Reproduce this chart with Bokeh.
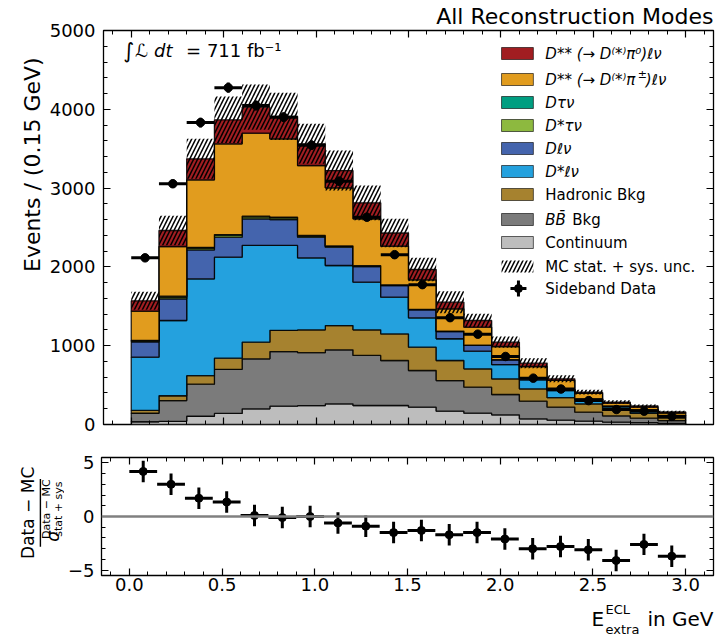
import numpy as np
from bokeh.plotting import figure
from bokeh.models import (Range1d, LinearAxis, SingleIntervalTicker, Label, BoxAnnotation,
                          Span, CustomJSTickFormatter, NumeralTickFormatter)
from bokeh.layouts import column, row
from bokeh.embed import file_html
from bokeh.resources import INLINE

# ---------------- data ----------------
bin_edges = [0.0, 0.15, 0.3, 0.45, 0.6, 0.75, 0.9, 1.05, 1.2, 1.35, 1.5,
             1.65, 1.8, 1.95, 2.1, 2.25, 2.4, 2.55, 2.7, 2.85, 3.0]
continuum    = [35, 40, 105, 140, 199, 232, 240, 262, 241, 241, 220, 169, 144, 123, 72, 55, 42, 30, 25, 15]
bb_bkg       = [108, 264, 407, 560, 635, 693, 672, 686, 635, 571, 465, 389, 330, 258, 224, 165, 114, 80, 55, 35]
hadronic_bkg = [35, 61, 108, 142, 211, 270, 289, 308, 325, 338, 296, 254, 233, 199, 157, 120, 106, 68, 60, 35]
dstar_lnu    = [676, 955, 1229, 1281, 1227, 1077, 914, 762, 605, 466, 373, 276, 223, 181, 114, 90, 53, 47, 40, 20]
d_lnu        = [196, 275, 366, 254, 338, 329, 262, 232, 199, 148, 102, 92, 73, 60, 18, 10, 10, 10, 7, 9]
dstar_taunu  = [12, 23, 25, 25, 26, 23, 18, 12, 8, 6, 4, 3, 2, 2, 2, 1, 1, 1, 1, 0]
d_taunu      = [6, 10, 8, 8, 8, 6, 5, 4, 3, 3, 2, 2, 1, 1, 1, 1, 1, 0, 0, 1]
dss_pipm     = [372, 631, 857, 1152, 1053, 995, 887, 737, 594, 490, 374, 283, 229, 166, 148, 118, 68, 34, 32, 30]
dss_pi0      = [130, 203, 267, 305, 330, 284, 275, 220, 203, 167, 131, 84, 85, 55, 42, 20, 15, 15, 15, 15]
mc_unc       = [115, 186, 254, 295, 288, 300, 254, 254, 220, 180, 148, 140, 85, 72, 64, 45, 30, 22, 20, 15]
sideband_data = [2115, 3055, 3832, 4275, 4048, 3900, 3545, 3088, 2631, 2155, 1775, 1356, 1146, 863, 588, 450, 303, 190, 169, 103]
pull         = [4.2, 3.0, 1.7, 1.35, 0.1, -0.1, 0.0, -0.6, -0.9, -1.5, -1.3, -1.7, -1.5, -2.1, -3.0, -2.8, -3.1, -4.1, -2.6, -3.7]

components = [
    ("Continuum", continuum, "#bdbdbd"),
    ("BB Bkg", bb_bkg, "#7b7b7b"),
    ("Hadronic Bkg", hadronic_bkg, "#a6822f"),
    ("D*lnu", dstar_lnu, "#24a1de"),
    ("Dlnu", d_lnu, "#4464ad"),
    ("D*taunu", dstar_taunu, "#8db93f"),
    ("Dtaunu", d_taunu, "#009e81"),
    ("Dss pipm", dss_pipm, "#e19c1e"),
    ("Dss pi0", dss_pi0, "#a11d21"),
]

edges = np.array(bin_edges)
lefts, rights = edges[:-1], edges[1:]
centers = 0.5 * (lefts + rights)

FONT = "DejaVu Sans"
W = 715
FL, FR = 100, 713          # page x of frames
F1T, F1B = 30, 424          # page y of main frame
P1_BOT = 440
F2T, F2B = 457, 575         # page y of ratio frame
P2_BOT = 600
YL_W = 46                   # strip holding the main y label
LAB_W = 64                  # strip holding the ratio y label


def x1(px):
    return -0.15 + (px - FL) / (FR - FL) * 3.3


def y1(py):
    return (F1B - py) / (F1B - F1T) * 5000


def style_axis(ax, ticker, labels=True, size="18px"):
    ax.ticker = ticker
    ax.axis_line_color = None
    ax.major_tick_in = 7
    ax.major_tick_out = 0
    ax.minor_tick_in = 4
    ax.minor_tick_out = 0
    ax.major_tick_line_color = "black"
    ax.major_tick_line_width = 1.2
    ax.minor_tick_line_color = "black"
    ax.minor_tick_line_width = 1
    ax.major_label_text_font = FONT
    ax.major_label_text_color = "black"
    if labels:
        ax.major_label_text_font_size = size
        ax.major_label_standoff = 8
    else:
        ax.major_label_text_font_size = "0px"
        ax.major_label_text_alpha = 0
        ax.major_label_standoff = 0
        ax.formatter = CustomJSTickFormatter(code="return ''")


def text_fig(x_left, width, y_top, height):
    """A bare figure whose data coordinates equal page pixels (for free-standing texts)."""
    f = figure(width=width, height=height, x_range=Range1d(x_left, x_left + width),
               y_range=Range1d(y_top + height, y_top), output_backend="svg",
               toolbar_location=None, x_axis_type=None, y_axis_type=None, title=None,
               min_border=0)
    f.xgrid.grid_line_color = None
    f.ygrid.grid_line_color = None
    f.outline_line_color = None
    f.background_fill_color = "white"
    f.border_fill_color = "white"
    return f


def add_text(f, x, y, text, size, style="normal", align="left", angle=0.0, font=FONT):
    f.add_layout(Label(x=x, y=y, text=text, text_align=align, text_baseline="middle",
                       text_font=font, text_font_size=size, text_font_style=style,
                       angle=angle, text_color="black"))


# ---------------- main y-label strip ----------------
py_lab = text_fig(0, YL_W, 0, P1_BOT)
add_text(py_lab, 32, F1T, "Events / (0.15 GeV)", "22px", align="right", angle=np.pi / 2)

# ---------------- main figure ----------------
p1 = figure(width=W - YL_W, height=P1_BOT, x_range=Range1d(-0.15, 3.15), y_range=Range1d(0, 5000),
            output_backend="svg", toolbar_location=None, title="All Reconstruction Modes",
            min_border_left=FL - YL_W, min_border_right=W - FR, min_border_top=F1T,
            min_border_bottom=P1_BOT - F1B)
p1.title.align = "right"
p1.title.vertical_align = "top"
p1.title.text_font = FONT
p1.title.text_font_size = "22px"
p1.title.text_font_style = "normal"
p1.title.text_color = "black"
p1.title.standoff = 0
p1.xgrid.grid_line_color = None
p1.ygrid.grid_line_color = None
p1.outline_line_color = "black"
p1.outline_line_width = 1.3
p1.background_fill_color = "white"
p1.border_fill_color = "white"

style_axis(p1.xaxis[0], SingleIntervalTicker(interval=0.5, num_minor_ticks=5), labels=False)
style_axis(p1.yaxis[0], SingleIntervalTicker(interval=1000, num_minor_ticks=5))
ax_top = LinearAxis()
style_axis(ax_top, SingleIntervalTicker(interval=0.5, num_minor_ticks=5), labels=False)
p1.add_layout(ax_top, "above")
ax_right = LinearAxis()
style_axis(ax_right, SingleIntervalTicker(interval=1000, num_minor_ticks=5), labels=False)
p1.add_layout(ax_right, "right")

# stacked step-filled histograms
bottom = np.zeros(len(centers))
for name, vals, col in components:
    top = bottom + np.array(vals, dtype=float)
    xs, ys = [], []
    for i in range(len(centers)):
        xs += [lefts[i], rights[i]]
        ys += [top[i], top[i]]
    for i in reversed(range(len(centers))):
        xs += [rights[i], lefts[i]]
        ys += [bottom[i], bottom[i]]
    p1.patch(xs, ys, fill_color=col, fill_alpha=1.0, line_color="black",
             line_width=1.3, line_alpha=0.85)
    bottom = top

total = bottom
unc = np.array(mc_unc, dtype=float)
p1.quad(left=lefts, right=rights, bottom=total - unc, top=total + unc,
        fill_alpha=0, line_alpha=0, hatch_pattern="/", hatch_color="black",
        hatch_scale=8, hatch_weight=1.5)

dat = np.array(sideband_data, dtype=float)
derr = np.sqrt(dat)
p1.segment(x0=lefts, y0=dat, x1=rights, y1=dat, line_color="black", line_width=3)
p1.segment(x0=centers, y0=dat - derr, x1=centers, y1=dat + derr, line_color="black", line_width=3)
p1.scatter(x=centers, y=dat, size=8.5, marker="circle", fill_color="black", line_color="black")

# luminosity text
p1.add_layout(Label(x=x1(120), y=y1(50), text="∫", text_align="left", text_baseline="middle",
                    text_font=FONT, text_font_size="21px", text_color="black"))
p1.add_layout(Label(x=x1(132), y=y1(50), text="ℒ dt", text_align="left", text_baseline="middle",
                    text_font=FONT, text_font_size="18px", text_font_style="italic", text_color="black"))
p1.add_layout(Label(x=x1(183), y=y1(50), text="= 711 fb⁻¹", text_align="left", text_baseline="middle",
                    text_font=FONT, text_font_size="18px", text_color="black"))

# legend (custom)
SW_L, SW_R = 500, 532
TX = 544
leg_rows = [53, 79, 102, 125, 148, 171, 194, 219, 242, 266, 288]
leg_colors = ["#a11d21", "#e19c1e", "#009e81", "#8db93f", "#4464ad", "#24a1de", "#a6822f", "#7b7b7b", "#bdbdbd"]
for cy, col in zip(leg_rows[:9], leg_colors):
    p1.add_layout(BoxAnnotation(left=x1(SW_L), right=x1(SW_R), top=y1(cy - 6), bottom=y1(cy + 6),
                                fill_color=col, fill_alpha=1, line_color="black", line_width=1,
                                line_alpha=0.6, editable=False))
p1.add_layout(BoxAnnotation(left=x1(SW_L), right=x1(SW_R), top=y1(leg_rows[9] - 6), bottom=y1(leg_rows[9] + 6),
                            fill_alpha=0, line_alpha=0, hatch_pattern="/", hatch_color="black",
                            hatch_scale=8, hatch_weight=1.5))
p1.scatter(x=[x1(517)], y=[y1(leg_rows[10])], marker="cross", size=16,
           line_color="black", line_width=3)
p1.scatter(x=[x1(517)], y=[y1(leg_rows[10])], marker="circle", size=8,
           fill_color="black", line_color="black")


def leg_text(px, cy, text, style="normal", size="15px"):
    p1.add_layout(Label(x=x1(px), y=y1(cy), text=text, text_align="left", text_baseline="middle",
                        text_font=FONT, text_font_size=size, text_font_style=style, text_color="black"))


leg_text(TX, leg_rows[0], "D** (→ D⁽*⁾π⁰)ℓν", "italic")
leg_text(TX, leg_rows[1], "D** (→ D⁽*⁾π", "italic")
leg_text(TX + 93, leg_rows[1] - 5, "±", "italic", "11px")
leg_text(TX + 101, leg_rows[1], ")ℓν", "italic")
leg_text(TX, leg_rows[2], "Dτν", "italic")
leg_text(TX, leg_rows[3], "D*τν", "italic")
leg_text(TX, leg_rows[4], "Dℓν", "italic")
leg_text(TX, leg_rows[5], "D*ℓν", "italic")
leg_text(TX, leg_rows[6], "Hadronic Bkg")
leg_text(TX, leg_rows[7], "BB\u0304", "italic")
leg_text(TX + 27, leg_rows[7], "Bkg")
leg_text(TX, leg_rows[8], "Continuum")
leg_text(TX, leg_rows[9], "MC stat. + sys. unc.")
leg_text(TX, leg_rows[10], "Sideband Data")

# ---------------- ratio y-label strip ----------------
pl_lab = text_fig(0, LAB_W, P1_BOT, P2_BOT - P1_BOT)
add_text(pl_lab, 27, 515, "Data − MC", "17px", align="center", angle=np.pi / 2)
pl_lab.add_layout(BoxAnnotation(left=39.2, right=40.6, top=469, bottom=561, fill_color="black",
                                fill_alpha=1, line_alpha=0, editable=False))
add_text(pl_lab, 52, 547, "σ", "17px", style="italic", align="center", angle=np.pi / 2)
add_text(pl_lab, 46, 510, "Data − MC", "11px", align="center", angle=np.pi / 2)
add_text(pl_lab, 58, 510, "stat + sys", "11px", align="center", angle=np.pi / 2)

# ---------------- ratio figure ----------------
p2 = figure(width=W - LAB_W, height=P2_BOT - P1_BOT, x_range=p1.x_range, y_range=Range1d(-5.5, 5.5),
            output_backend="svg", toolbar_location=None, title=None,
            min_border_left=FL - LAB_W, min_border_right=W - FR, min_border_top=F2T - P1_BOT,
            min_border_bottom=P2_BOT - F2B)
p2.xgrid.grid_line_color = None
p2.ygrid.grid_line_color = None
p2.outline_line_color = "black"
p2.outline_line_width = 1.3
p2.background_fill_color = "white"
p2.border_fill_color = "white"
style_axis(p2.xaxis[0], SingleIntervalTicker(interval=0.5, num_minor_ticks=5))
p2.xaxis[0].formatter = NumeralTickFormatter(format="0.0")
p2.xaxis[0].major_label_standoff = 2
style_axis(p2.yaxis[0], SingleIntervalTicker(interval=5, num_minor_ticks=5))
p2.yaxis[0].major_label_standoff = 7
p2.yaxis[0].formatter = CustomJSTickFormatter(
    code="return tick < 0 ? '\u2212' + Math.abs(tick) : String(tick)")
ax2_top = LinearAxis()
style_axis(ax2_top, SingleIntervalTicker(interval=0.5, num_minor_ticks=5), labels=False)
p2.add_layout(ax2_top, "above")
ax2_right = LinearAxis()
style_axis(ax2_right, SingleIntervalTicker(interval=5, num_minor_ticks=5), labels=False)
p2.add_layout(ax2_right, "right")

p2.add_layout(Span(location=0, dimension="width", line_color="#808080", line_width=2.5))
pl = np.array(pull)
p2.segment(x0=lefts, y0=pl, x1=rights, y1=pl, line_color="black", line_width=3)
p2.segment(x0=centers, y0=pl - 1, x1=centers, y1=pl + 1, line_color="black", line_width=3)
p2.scatter(x=centers, y=pl, size=8, marker="circle", fill_color="black", line_color="black")

# ---------------- x label strip ----------------
pxl = text_fig(0, W, P2_BOT, 639 - P2_BOT)
add_text(pxl, FR, 618, "in GeV", "20px", align="right")
add_text(pxl, 591, 618, "E", "20px")
add_text(pxl, 605, 609, "ECL", "13px")
add_text(pxl, 605, 629, "extra", "13px")

layout = column(row(py_lab, p1, spacing=0), row(pl_lab, p2, spacing=0), pxl, spacing=0)
open("out.html", "w").write(file_html(layout, INLINE))
